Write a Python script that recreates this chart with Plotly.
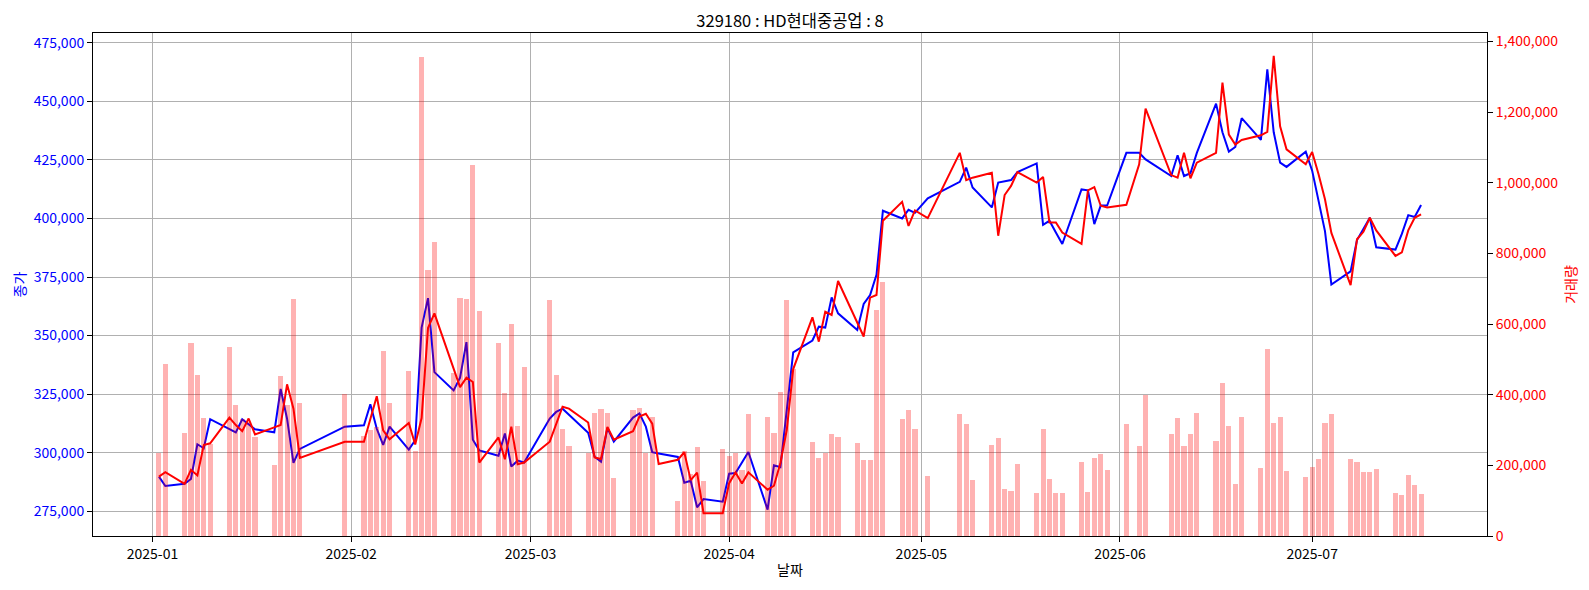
import pandas as pd
import plotly.graph_objects as go

dates = [
    "2025-01-02", "2025-01-03", "2025-01-06", "2025-01-07", "2025-01-08", "2025-01-09", "2025-01-10",
    "2025-01-13", "2025-01-14", "2025-01-15", "2025-01-16", "2025-01-17",
    "2025-01-20", "2025-01-21", "2025-01-22", "2025-01-23", "2025-01-24", "2025-01-31",
    "2025-02-03", "2025-02-04", "2025-02-05", "2025-02-06", "2025-02-07",
    "2025-02-10", "2025-02-11", "2025-02-12", "2025-02-13", "2025-02-14",
    "2025-02-17", "2025-02-18", "2025-02-19", "2025-02-20", "2025-02-21",
    "2025-02-24", "2025-02-25", "2025-02-26", "2025-02-27", "2025-02-28",
    "2025-03-04", "2025-03-05", "2025-03-06", "2025-03-07",
    "2025-03-10", "2025-03-11", "2025-03-12", "2025-03-13", "2025-03-14",
    "2025-03-17", "2025-03-18", "2025-03-19", "2025-03-20", "2025-03-21",
    "2025-03-24", "2025-03-25", "2025-03-26", "2025-03-27", "2025-03-28",
    "2025-03-31", "2025-04-01", "2025-04-02", "2025-04-03", "2025-04-04",
    "2025-04-07", "2025-04-08", "2025-04-09", "2025-04-10", "2025-04-11",
    "2025-04-14", "2025-04-15", "2025-04-16", "2025-04-17", "2025-04-18",
    "2025-04-21", "2025-04-22", "2025-04-23", "2025-04-24", "2025-04-25",
    "2025-04-28", "2025-04-29", "2025-04-30", "2025-05-02",
    "2025-05-07", "2025-05-08", "2025-05-09",
    "2025-05-12", "2025-05-13", "2025-05-14", "2025-05-15", "2025-05-16",
    "2025-05-19", "2025-05-20", "2025-05-21", "2025-05-22", "2025-05-23",
    "2025-05-26", "2025-05-27", "2025-05-28", "2025-05-29", "2025-05-30",
    "2025-06-02", "2025-06-04", "2025-06-05",
    "2025-06-09", "2025-06-10", "2025-06-11", "2025-06-12", "2025-06-13",
    "2025-06-16", "2025-06-17", "2025-06-18", "2025-06-19", "2025-06-20",
    "2025-06-23", "2025-06-24", "2025-06-25", "2025-06-26", "2025-06-27",
    "2025-06-30", "2025-07-01", "2025-07-02", "2025-07-03", "2025-07-04",
    "2025-07-07", "2025-07-08", "2025-07-09", "2025-07-10", "2025-07-11",
    "2025-07-14", "2025-07-15", "2025-07-16", "2025-07-17", "2025-07-18",
]

close_price = [
    289800, 285800, 286700, 288800, 303600, 301900, 314300,
    310300, 308700, 314300, 312000, 310000,
    308700, 327200, 314500, 295700, 301600, 311100,
    311700, 320700, 310200, 303300, 311100,
    301300, 305300, 353400, 366000, 334400,
    326600, 332000, 347200, 305500, 301000,
    298700, 308200, 294100, 296600, 295800,
    314600, 317400, 318800, 316300,
    308500, 298300, 296200, 310600, 304700,
    315000, 316800, 311100, 300200, 299700,
    298200, 287200, 288000, 276700, 280200,
    279100, 291000, 291300, 295600, 300300,
    275700, 294600, 293800, 319700, 342800,
    347900, 353800, 353400, 366300, 359500,
    352400, 363500, 367300, 375900, 403300,
    400000, 403700, 402400, 408600,
    415600, 421700, 413200,
    404700, 415300, 416000, 416400, 419800,
    423500, 397300, 399000, 394000, 389100,
    412400, 412000, 397600, 405500, 405500,
    428000, 428000, 425200,
    418100, 427000, 418100, 419300, 428000,
    449000, 436800, 428500, 430500, 442800,
    433500, 463600, 436800, 423800, 422000,
    428500, 420400, 408200, 394600, 371800,
    377400, 390800, 395600, 400300, 387700,
    386700, 393400, 401400, 400600, 405700,
]

pred_price = [
    289800, 291700, 286700, 292700, 290300, 303300, 304000,
    315000, 311800, 309200, 314600, 307800,
    310800, 311800, 329200, 318800, 297800, 304700,
    304700, 314600, 324100, 309500, 305700,
    312700, 303500, 314800, 353200, 359500,
    335800, 328000, 332000, 330200, 295800,
    306500, 297200, 311100, 295100, 295800,
    304700, 311800, 319600, 318800,
    312900, 298000, 297300, 311000, 305600,
    309200, 315400, 316600, 312400, 295200,
    297000, 300200, 288300, 291500, 274200,
    274200, 287000, 291600, 286800, 291600,
    284200, 285900, 295600, 309800, 335700,
    357800, 347400, 360200, 358800, 373300,
    355300, 349600, 366200, 367300, 399000,
    407100, 396800, 403400, 400100,
    428000, 416300, 417400,
    419500, 392600, 410000, 413900, 419800,
    415300, 417700, 398300, 398300, 394000,
    389100, 412000, 413400, 405400, 404700,
    405800, 423100, 446900,
    418500, 417400, 428000, 417100, 423800,
    428000, 458000, 435800, 431500, 433500,
    435500, 437000, 469400, 439300, 429500,
    423100, 428400, 418900, 408200, 393800,
    371500, 391100, 394300, 400300, 394900,
    384000, 385500, 394900, 400300, 401700,
]

volume = [
    236000, 487000, 292000, 545000, 456000, 334000, 260000,
    534000, 372000, 330000, 322000, 279000,
    200000, 453000, 370000, 672000, 377000, 401000,
    282000, 299000, 308000, 524000, 377000,
    467000, 242000, 1356000, 754000, 832000,
    460000, 675000, 672000, 1050000, 638000,
    545000, 405000, 599000, 312000, 478000,
    669000, 456000, 304000, 256000,
    236000, 349000, 360000, 347000, 164000,
    358000, 362000, 236000, 338000, None,
    98000, 240000, 175000, 251000, 155000,
    245000, 226000, 236000, 186000, 344000,
    337000, 291000, 409000, 669000, 473000,
    265000, 221000, 236000, 288000, 280000,
    262000, 215000, 215000, 640000, 719000,
    330000, 358000, 304000, 169000,
    344000, 318000, 158000,
    259000, 276000, 133000, 127000, 203000,
    121000, 304000, 161000, 121000, 121000,
    209000, 124000, 220000, 231000, 186000,
    316000, 254000, 400000,
    290000, 335000, 254000, 288000, 347000,
    270000, 434000, 310000, 147000, 337000,
    192000, 529000, 321000, 337000, 183000,
    166000, 194000, 217000, 321000, 346000,
    219000, 210000, 182000, 182000, 191000,
    121000, 115000, 174000, 143000, 118000,
]

title_text = "329180 : HD현대중공업 : 8"
FONT = "Noto Sans CJK KR, Noto Sans, sans-serif"

dt = pd.to_datetime(dates)
bar_days = 0.8
day = pd.Timedelta(days=1)
lo = dt.min() - bar_days / 2 * day
hi = dt.max() + bar_days / 2 * day
pad = (hi - lo) * 0.05
x_range = [lo - pad, hi + pad]

prices = close_price + pred_price
pmin, pmax = min(prices), max(prices)
ppad = (pmax - pmin) * 0.05
y_range = [pmin - ppad, pmax + ppad]
vmax = max(v for v in volume if v is not None)
y2_range = [0, vmax * 1.05]

fig = go.Figure()
fig.add_trace(go.Scatter(x=dt, y=close_price, mode="lines",
                         line=dict(color="blue", width=2), yaxis="y", showlegend=False))
fig.add_trace(go.Scatter(x=dt, y=pred_price, mode="lines",
                         line=dict(color="red", width=2), yaxis="y", showlegend=False))
fig.add_trace(go.Bar(x=dt, y=volume, width=bar_days * 86400000,
                     marker=dict(color="rgba(255,0,0,0.3)", line=dict(width=0)),
                     yaxis="y2", showlegend=False))

axis_common = dict(showline=True, linecolor="black", linewidth=1, ticks="outside",
                   ticklen=5, tickwidth=1, tickcolor="black", zeroline=False,
                   automargin=False)

fig.update_layout(
    width=1589, height=590,
    margin=dict(l=85, r=110, t=25, b=62),
    paper_bgcolor="white", plot_bgcolor="white",
    font=dict(family=FONT, size=14, color="black"),
    title=dict(text=title_text, x=0.5, xref="paper", xanchor="center",
               y=1 - 13 / 590, yref="container", yanchor="middle",
               font=dict(family=FONT, size=16.5, color="black")),
    bargap=0,
    xaxis=dict(type="date", range=x_range, tickformat="%Y-%m", dtick="M1",
               tick0="2025-01-01", showgrid=True, gridcolor="#b0b0b0", gridwidth=1,
               mirror=True, tickfont=dict(size=14, color="black"),
               title=dict(text="날짜", standoff=3, font=dict(size=14, color="black")),
               **axis_common),
    yaxis=dict(range=y_range, dtick=25000, tick0=0, tickformat=",d",
               showgrid=True, gridcolor="#b0b0b0", gridwidth=1,
               tickfont=dict(size=14, color="blue"),
               title=dict(text="종가", standoff=4, font=dict(size=14, color="blue")),
               **axis_common),
    yaxis2=dict(range=y2_range, dtick=200000, tick0=0, tickformat=",d",
                overlaying="y", side="right", showgrid=False,
                tickfont=dict(size=14, color="red"),
                title=dict(text="거래량", standoff=8, font=dict(size=14, color="red")),
                **axis_common),
)

fig.write_html("out.html")
